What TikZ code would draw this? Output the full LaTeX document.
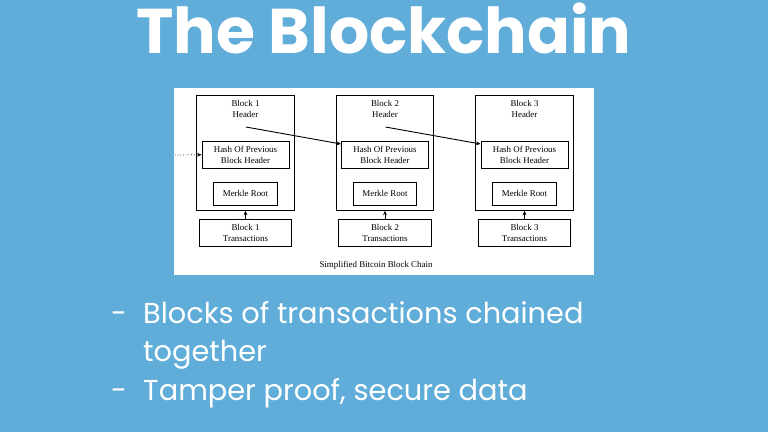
\documentclass[tikz,border=0pt]{standalone}
\usepackage{fontspec}
\setmainfont{Liberation Serif}
\newfontfamily\titlefont{Poppins}[UprightFont=* Bold]
\newfontfamily\bulletfont{Poppins}
\usetikzlibrary{arrows.meta,calc}
\definecolor{slidebg}{RGB}{95,173,216}
\tikzset{
  outerbox/.style={draw=black, line width=0.9pt, minimum width=97.5pt, minimum height=114.6pt, inner sep=0pt},
  hashbox/.style={draw=black, line width=0.9pt, minimum width=87pt, minimum height=27.3pt, inner sep=0pt, align=center, font=\fontsize{8.9}{11}\selectfont},
  merklebox/.style={draw=black, line width=0.9pt, minimum width=63.6pt, minimum height=23pt, inner sep=0pt, font=\fontsize{8.9}{11}\selectfont},
  transbox/.style={draw=black, line width=0.9pt, minimum width=92.7pt, minimum height=27.3pt, inner sep=0pt, align=center, font=\fontsize{8.9}{11}\selectfont},
  headtext/.style={align=center, inner sep=0pt, font=\fontsize{8.9}{11}\selectfont},
  link/.style={line width=0.9pt, -{Stealth[length=4.5pt,width=3.8pt]}},
  bullettext/.style={anchor=base west, inner sep=0pt, text=white, font=\bulletfont\fontsize{28.8}{34}\selectfont},
}
\begin{document}
\begin{tikzpicture}[x=1pt,y=-1pt]
\fill[slidebg] (0,0) rectangle (768,432);
\useasboundingbox (0,0) rectangle (768,432);
\node[anchor=base, inner sep=0pt, text=white, font=\titlefont\fontsize{63.2}{70}\selectfont] (title) at (384,53) {The Blockchain};
\fill[white] (174,88) rectangle (594,275);
\foreach \i/\cx in {1/245.5,2/385,3/524.5}{
  \node[outerbox] (outer\i) at (\cx,153) {};
  \node[headtext] (head\i) at (\cx,109) {Block \i\\Header};
  \node[hashbox] (hash\i) at (\cx,154.7) {Hash Of Previous\\Block Header};
  \node[merklebox] (merkle\i) at (\cx,193.5) {Merkle Root};
  \node[transbox] (trans\i) at (\cx,232.7) {Block \i\\Transactions};
  \coordinate (src\i) at (\cx+0.5,127);
  \draw[link] (trans\i.north) -- (outer\i.south);
}
\draw[link] (src1) -- ([yshift=10.7pt]hash2.west);
\draw[link] (src2) -- ([yshift=10.7pt]hash3.west);
\coordinate (prev) at (175,155);
\draw[line width=0.7pt, dotted] (prev) -- ([xshift=-3pt]hash1.west);
\draw[link, shorten <=24pt] (prev) -- (hash1.west);
\node[anchor=base, inner sep=0pt, font=\fontsize{8.9}{11}\selectfont] (caption) at (376,267) {Simplified Bitcoin Block Chain};
\node[bullettext] (dash1) at (111,323) {-};
\node[bullettext] (line1) at (143,323) {Blocks of transactions chained};
\node[bullettext] (line2) at (143,361) {together};
\node[bullettext] (dash2) at (111,400) {-};
\node[bullettext] (line3) at (143,400) {Tamper proof, secure data};
\end{tikzpicture}
\end{document}
